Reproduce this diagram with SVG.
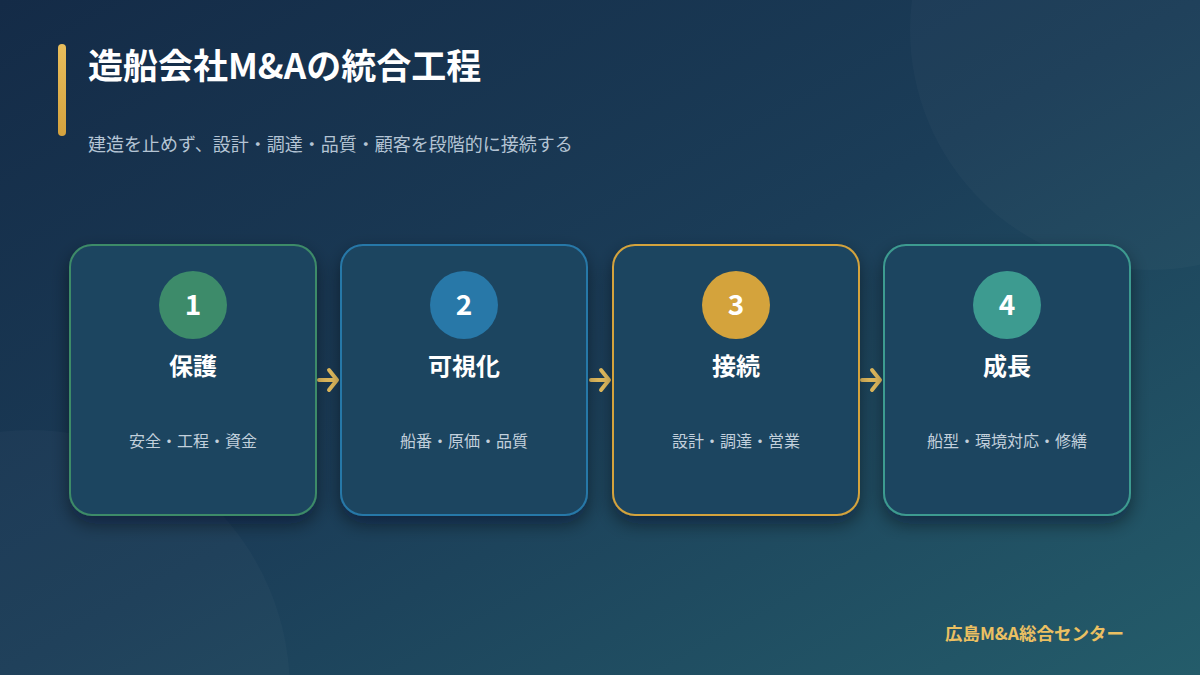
<svg xmlns="http://www.w3.org/2000/svg" width="1200" height="675" viewBox="0 0 1200 675">
<defs>
<linearGradient id="bg" x1="0" y1="0" x2="1" y2="1">
<stop offset="0" stop-color="#142b47"/>
<stop offset="0.5" stop-color="#1b3d58"/>
<stop offset="1" stop-color="#245c6a"/>
</linearGradient>
<linearGradient id="bar" x1="0" y1="0" x2="0" y2="1">
<stop offset="0" stop-color="#e9be5c"/>
<stop offset="1" stop-color="#d4a23e"/>
</linearGradient>
<filter id="sh" x="-20%" y="-20%" width="140%" height="150%">
<feDropShadow dx="0" dy="8" stdDeviation="9" flood-color="#06111f" flood-opacity="0.45"/>
</filter>
</defs>
<style>
.ttl{font-family:"Noto Sans CJK JP","Noto Sans",sans-serif;font-weight:700;fill:#ffffff}
.sub{font-family:"Noto Sans CJK JP","Noto Sans",sans-serif;font-size:18px;fill:#b4c4d4}
.card{fill:#1e4560;stroke-width:2}
.num{font-family:"Noto Sans CJK JP","Noto Sans",sans-serif;font-weight:700;font-size:28px;fill:#ffffff;text-anchor:middle}
.head{font-family:"Noto Sans CJK JP","Noto Sans",sans-serif;font-weight:700;font-size:24px;fill:#ffffff;text-anchor:middle}
.desc{font-family:"Noto Sans CJK JP","Noto Sans",sans-serif;font-size:16px;fill:#c2d0dc;text-anchor:middle}
.arr{fill:none;stroke:#ecc462;stroke-width:4;stroke-linecap:round;stroke-linejoin:round}
.foot{font-family:"Noto Sans CJK JP","Noto Sans",sans-serif;font-weight:700;font-size:17.5px;fill:#ebc062;text-anchor:end}
</style>
<rect width="1200" height="675" fill="url(#bg)"/>
<circle cx="1150" cy="30" r="240" fill="#ffffff" fill-opacity="0.025"/>
<circle cx="30" cy="690" r="260" fill="#ffffff" fill-opacity="0.025"/>
<rect x="58" y="44" width="8" height="92" rx="4" fill="url(#bar)"/>
<text class="ttl" x="88" y="79" font-size="35">造船会社M&amp;Aの統合工程</text>
<text class="sub" x="88" y="151">建造を止めず、設計・調達・品質・顧客を段階的に接続する</text>
<g id="connectors">
<path class="arr" d="M319 380 H336 M329 370 L337 380 L329 390"/>
<path class="arr" d="M591 380 H608 M601 370 L609 380 L601 390"/>
<path class="arr" d="M862 380 H879 M872 370 L880 380 L872 390"/>
</g>
<g id="node1">
<rect class="card" x="70" y="245" width="246" height="270" rx="22" stroke="#3d8b68" filter="url(#sh)"/>
<circle cx="193" cy="305" r="34" fill="#3d8b6a"/>
<text class="num" x="193" y="315">1</text>
<text class="head" x="193" y="375">保護</text>
<text class="desc" x="193" y="447">安全・工程・資金</text>
</g>
<g id="node2">
<rect class="card" x="341" y="245" width="246" height="270" rx="22" stroke="#2878a8" filter="url(#sh)"/>
<circle cx="464" cy="305" r="34" fill="#2878a8"/>
<text class="num" x="464" y="315">2</text>
<text class="head" x="464" y="375">可視化</text>
<text class="desc" x="464" y="447">船番・原価・品質</text>
</g>
<g id="node3">
<rect class="card" x="613" y="245" width="246" height="270" rx="22" stroke="#d4a33c" filter="url(#sh)"/>
<circle cx="736" cy="305" r="34" fill="#d4a33c"/>
<text class="num" x="736" y="315">3</text>
<text class="head" x="736" y="375">接続</text>
<text class="desc" x="736" y="447">設計・調達・営業</text>
</g>
<g id="node4">
<rect class="card" x="884" y="245" width="246" height="270" rx="22" stroke="#3d9b90" filter="url(#sh)"/>
<circle cx="1007" cy="305" r="34" fill="#3d9b90"/>
<text class="num" x="1007" y="315">4</text>
<text class="head" x="1007" y="375">成長</text>
<text class="desc" x="1007" y="447">船型・環境対応・修繕</text>
</g>
<text class="foot" x="1124" y="640">広島M&amp;A総合センター</text>
</svg>
